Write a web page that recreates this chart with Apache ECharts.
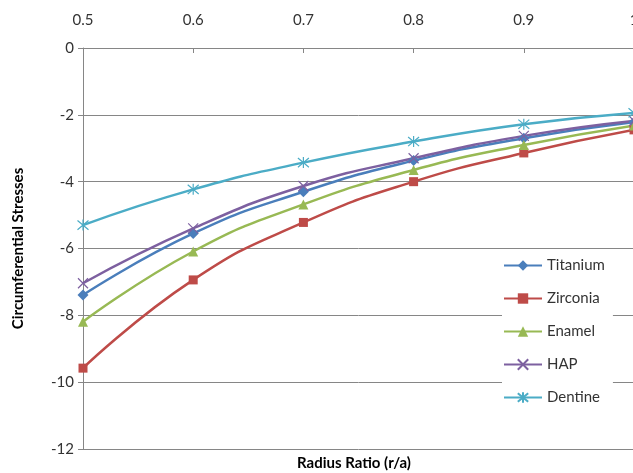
<!DOCTYPE html>
<html>
<head>
<meta charset="utf-8">
<script src="https://cdn.jsdelivr.net/npm/echarts@6/dist/echarts.min.js"></script>
<style>html,body{margin:0;padding:0;background:#fff}#c{width:633px;height:473px}</style>
</head>
<body>
<div id="c"></div>
<script>
var radiusRatio = [0.5, 0.6, 0.7, 0.8, 0.9, 1.0];
var titanium = [-7.39, -5.55, -4.30, -3.37, -2.70, -2.22];
var zirconia = [-9.58, -6.94, -5.22, -4.00, -3.14, -2.45];
var enamel   = [-8.19, -6.09, -4.68, -3.65, -2.90, -2.32];
var hap      = [-7.04, -5.40, -4.13, -3.30, -2.63, -2.18];
var dentine  = [-5.30, -4.23, -3.43, -2.80, -2.28, -1.94];
var yTicks = [0, -2, -4, -6, -8, -10, -12];

var FONT = 'Lato, "Open Sans", sans-serif';
function pairs(arr){ return radiusRatio.map(function(x,i){ return [x, arr[i]]; }); }
function mk(name, data, color, symbol, size, stroke){
  var s = {
    name: name, type: 'line', smooth: true, data: pairs(data),
    symbol: symbol, symbolSize: size,
    lineStyle: {color: color, width: 2.5},
    itemStyle: {color: color},
    emphasis: {disabled: true}
  };
  if (stroke) { s.itemStyle = {color: 'rgba(0,0,0,0)', borderColor: color, borderWidth: 1.2}; }
  return s;
}
var chart = echarts.init(document.getElementById('c'), null, {renderer: 'canvas'});
chart.setOption({
  animation: false,
  backgroundColor: '#fff',
  textStyle: {fontFamily: FONT},
  grid: {left: 83, top: 48, right: -1, bottom: 24, containLabel: false, outerBoundsMode: 'none'},
  title: {
    text: 'Radius Ratio (r/a)', left: 292, top: 451,
    textStyle: {fontFamily: FONT, fontSize: 15, fontWeight: 'bold', color: '#000'}
  },
  xAxis: {
    type: 'value', position: 'top', min: 0.5, max: 1.0, interval: 0.1,
    axisLine: {show: true, onZero: false, lineStyle: {color: '#868686'}},
    axisTick: {show: true, inside: true, length: 5, lineStyle: {color: '#868686'}},
    axisLabel: {margin: 20, fontSize: 15, color: '#333', fontFamily: FONT,
      formatter: function(v){ return String(+v.toFixed(1)); }},
    splitLine: {show: false}
  },
  yAxis: {
    type: 'value', min: -12, max: 0, interval: 2,
    name: 'Circumferential Stresses', nameLocation: 'middle', nameGap: 57, nameRotate: 90,
    nameTextStyle: {fontFamily: FONT, fontSize: 15, fontWeight: 'bold', color: '#000'},
    axisLine: {show: true, lineStyle: {color: '#868686'}},
    axisTick: {show: true, length: 5, lineStyle: {color: '#868686'}},
    axisLabel: {margin: 9, fontSize: 15, color: '#333', fontFamily: FONT},
    splitLine: {show: true, lineStyle: {color: '#868686', width: 1}}
  },
  legend: {
    orient: 'vertical', left: 502, top: 252,
    padding: [6, 8, 6, 1], itemGap: 18, itemWidth: 38, itemHeight: 13,
    backgroundColor: '#fff',
    textStyle: {fontFamily: FONT, fontSize: 15, color: '#333'},
    data: ['Titanium', 'Zirconia', 'Enamel', 'HAP', 'Dentine']
  },
  series: [
    mk('Titanium', titanium, '#4A7EBB', 'diamond', 11),
    mk('Zirconia', zirconia, '#BE4B48', 'rect', 9),
    mk('Enamel', enamel, '#98B954', 'triangle', 10),
    mk('HAP', hap, '#7D60A0', 'path://M0,0L10,10M10,0L0,10', 10, true),
    mk('Dentine', dentine, '#4BACC6', 'path://M0,0L10,10M10,0L0,10M5,-1L5,11', 11, true)
  ]
});
</script>
</body>
</html>
